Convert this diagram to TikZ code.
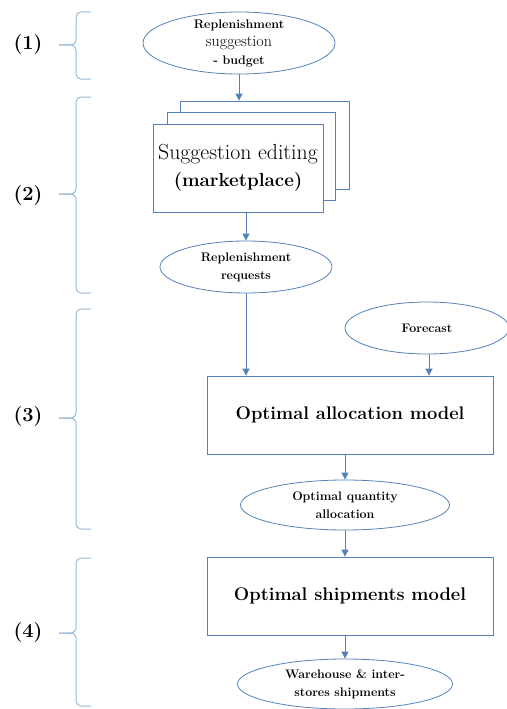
\documentclass[tikz,border=0pt]{standalone}
\usetikzlibrary{shapes.geometric,arrows.meta}
\definecolor{flowline}{RGB}{84,130,182}
\definecolor{bracecol}{RGB}{150,184,214}
\tikzset{
  oval/.style={ellipse, draw=flowline, line width=0.8pt, fill=white, inner sep=0pt, align=center,
    font=\fontsize{12.4}{18}\selectfont\bfseries},
  modelbox/.style={rectangle, draw=flowline, line width=0.8pt, fill=white, inner sep=0pt,
    font=\fontsize{18.3}{21}\selectfont\bfseries},
  sheet/.style={rectangle, draw=flowline, line width=0.8pt, fill=white, minimum height=88pt},
  flow/.style={draw=flowline, line width=0.8pt, -{Triangle[width=7pt,length=7pt]}},
  bracestyle/.style={draw=bracecol, line width=1pt, rounded corners=5pt},
  steplabel/.style={font=\fontsize{20}{22}\selectfont\bfseries, inner sep=0pt}
}
% left curly brace: top y, tip y, bottom y
\newcommand\stagebrace[3]{%
  \draw[bracestyle] (91,#1) -- (76,#1) -- (76,#2) -- (59,#2);
  \draw[bracestyle] (59,#2) -- (76,#2) -- (76,#3) -- (91,#3);
}
\begin{document}
\begin{tikzpicture}[x=1pt,y=-1pt]
\useasboundingbox (0,0) rectangle (506,709);

% stage braces and their numbers
\stagebrace{12}{45}{79}
\stagebrace{97}{194}{293}
\stagebrace{309}{418}{529}
\stagebrace{558}{633}{706}
\node[steplabel] (l1) at (28,45) {(1)};
\node[steplabel] (l2) at (28,196) {(2)};
\node[steplabel] (l3) at (28,417) {(3)};
\node[steplabel] (l4) at (28,633) {(4)};

% stage 1
\node[oval, inner sep=-6pt, minimum width=192pt, minimum height=62pt] (sugg) at (239,43)
  {Replenishment\\[0pt]{\fontsize{16}{18}\selectfont\mdseries suggestion}\\[0pt]- budget};

% stage 2: stacked editing sheets
\node[sheet, minimum width=169pt] (sheetc) at (264.5,145) {};
\node[sheet, minimum width=168pt] (sheetb) at (251,156) {};
\node[sheet, minimum width=170pt, align=center] (edit) at (238,168)
  {\fontsize{21.8}{26}\selectfont Suggestion editing\\[7pt]{\fontsize{18.8}{20}\selectfont\bfseries (marketplace)}};
\node[oval, minimum width=172pt, minimum height=52pt] (req) at (246,267) {Replenishment\\requests};

% stage 3
\node[oval, minimum width=164pt, minimum height=52pt] (fc) at (427,328) {Forecast};
\node[modelbox, minimum width=286pt, minimum height=78pt] (alloc) at (350,415) {Optimal allocation model};
\node[oval, minimum width=209pt, minimum height=50pt] (qa) at (345,505) {Optimal quantity\\allocation};

% stage 4
\node[modelbox, minimum width=286pt, minimum height=78pt] (ship) at (350,596) {Optimal shipments model};
\node[oval, minimum width=215pt, minimum height=50pt] (wh) at (345,684) {Warehouse \& inter-\\stores shipments};

% connectors
\draw[flow] (sugg.south) -- (sugg.south |- sheetc.north);
\draw[flow] (req.north |- edit.south) -- (req.north);
\draw[flow] (req.south) -- (req.south |- alloc.north);
\draw[flow] ([xshift=2pt]fc.south) -- ([xshift=2pt]fc.south |- alloc.north);
\draw[flow] (qa.north |- alloc.south) -- (qa.north);
\draw[flow] (qa.south) -- (qa.south |- ship.north);
\draw[flow] (wh.north |- ship.south) -- (wh.north);
\end{tikzpicture}
\end{document}
